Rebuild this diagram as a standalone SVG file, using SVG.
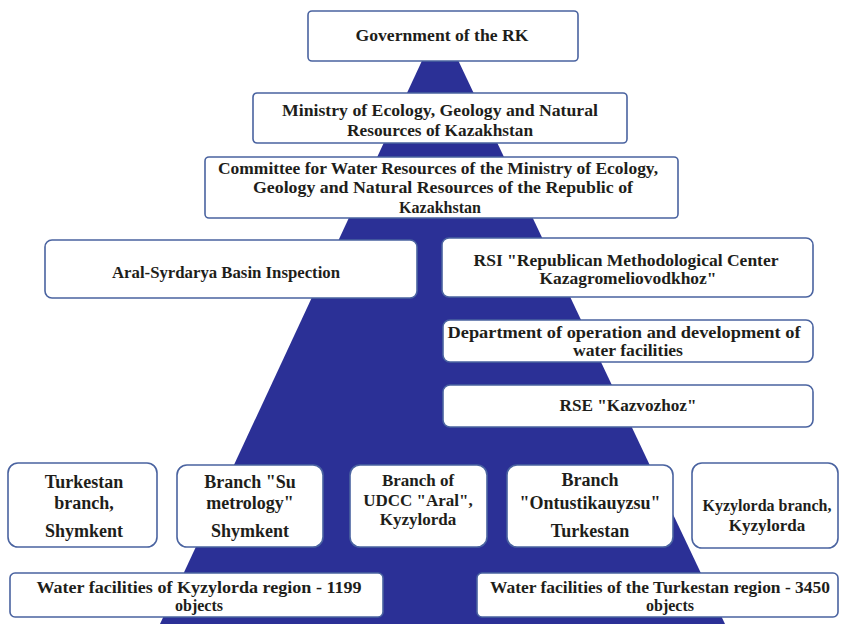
<svg xmlns="http://www.w3.org/2000/svg" width="843" height="624" viewBox="0 0 843 624">
<style>
.box{fill:#ffffff;stroke:#4a63a0;stroke-width:1.6}
.t{font-family:"Liberation Serif","Times New Roman",serif;font-weight:bold;font-size:16px;fill:#1e1e1a;text-anchor:middle}
.b{font-size:18px}
.m{font-size:17px}
</style>
<rect width="843" height="624" fill="#ffffff"/>
<polygon id="pyramid" points="440,22 160,624 725,624" fill="#2b3096"/>
<g id="connectors"></g>
<g id="gov"><rect class="box" x="308" y="11" width="270" height="50" rx="4"/><text class="t" x="442" y="41" textLength="173" lengthAdjust="spacingAndGlyphs">Government of the RK</text></g>
<g id="ministry"><rect class="box" x="253" y="93" width="374" height="50" rx="4"/><text class="t" x="440" y="116" textLength="316" lengthAdjust="spacingAndGlyphs">Ministry of Ecology, Geology and Natural</text><text class="t" x="440" y="136" textLength="186" lengthAdjust="spacingAndGlyphs">Resources of Kazakhstan</text></g>
<g id="committee"><rect class="box" x="205" y="157" width="473" height="61" rx="4"/><text class="t" x="438" y="174" textLength="440" lengthAdjust="spacingAndGlyphs">Committee for Water Resources of the Ministry of Ecology,</text><text class="t" x="443" y="193" textLength="380" lengthAdjust="spacingAndGlyphs">Geology and Natural Resources of the Republic of</text><text class="t" x="440" y="213">Kazakhstan</text></g>
<g id="aral"><rect class="box" x="45" y="240" width="372" height="58" rx="7"/><text class="t" x="226" y="278" textLength="228" lengthAdjust="spacingAndGlyphs">Aral-Syrdarya Basin Inspection</text></g>
<g id="rsi"><rect class="box" x="442" y="238" width="371" height="59" rx="7"/><text class="t" x="626" y="266" textLength="305" lengthAdjust="spacingAndGlyphs">RSI "Republican Methodological Center</text><text class="t" x="628" y="284" textLength="177" lengthAdjust="spacingAndGlyphs">Kazagromeliovodkhoz"</text></g>
<g id="dept"><rect class="box" x="443" y="320" width="370" height="42" rx="7"/><text class="t" x="624" y="338" textLength="353" lengthAdjust="spacingAndGlyphs">Department of operation and development of</text><text class="t" x="628" y="356" textLength="110" lengthAdjust="spacingAndGlyphs">water facilities</text></g>
<g id="rse"><rect class="box" x="443" y="385" width="370" height="42" rx="7"/><text class="t" x="628" y="411" textLength="137" lengthAdjust="spacingAndGlyphs">RSE "Kazvozhoz"</text></g>
<g id="turk"><rect class="box" x="8" y="463" width="149" height="84" rx="10"/><text class="t b" x="84" y="488">Turkestan</text><text class="t b" x="84" y="509">branch,</text><text class="t b" x="84" y="537">Shymkent</text></g>
<g id="su"><rect class="box" x="177" y="465" width="146" height="82" rx="10"/><text class="t b" x="250" y="488">Branch "Su</text><text class="t b" x="250" y="509">metrology"</text><text class="t b" x="250" y="537">Shymkent</text></g>
<g id="udcc"><rect class="box" x="350" y="465" width="137" height="82" rx="10"/><text class="t m" x="418" y="486">Branch of</text><text class="t m" x="418" y="506">UDCC "Aral",</text><text class="t m" x="418" y="525">Kyzylorda</text></g>
<g id="ont"><rect class="box" x="507" y="465" width="166" height="82" rx="10"/><text class="t b" x="590" y="486">Branch</text><text class="t b" x="590" y="509">"Ontustikauyzsu"</text><text class="t b" x="590" y="537">Turkestan</text></g>
<g id="kyz"><rect class="box" x="692" y="463" width="146" height="85" rx="10"/><text class="t" x="767" y="511">Kyzylorda branch,</text><text class="t m" x="767" y="531">Kyzylorda</text></g>
<g id="wfk"><rect class="box" x="10" y="573" width="373" height="44" rx="5"/><text class="t" x="199" y="593" textLength="325" lengthAdjust="spacingAndGlyphs">Water facilities of Kyzylorda region - 1199</text><text class="t" x="199" y="611">objects</text></g>
<g id="wft"><rect class="box" x="477" y="573" width="361" height="44" rx="5"/><text class="t" x="660" y="593" textLength="340" lengthAdjust="spacingAndGlyphs">Water facilities of the Turkestan region - 3450</text><text class="t" x="670" y="611">objects</text></g>
</svg>
